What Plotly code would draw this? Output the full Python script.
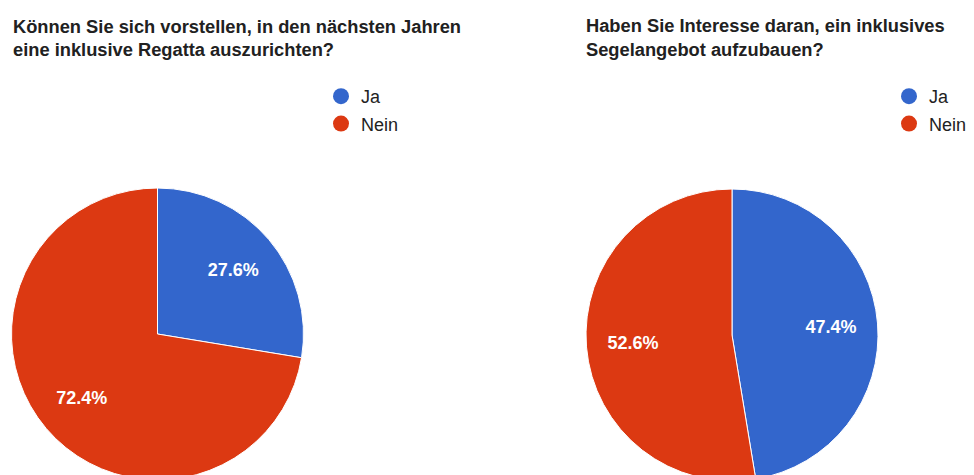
import plotly.graph_objects as go

labels = ["Ja", "Nein"]
colors = ["#3366cc", "#dc3912"]

regatta_title = ["Können Sie sich vorstellen, in den nächsten Jahren",
                 "eine inklusive Regatta auszurichten?"]
regatta_values = [27.6, 72.4]

segel_title = ["Haben Sie Interesse daran, ein inklusives",
               "Segelangebot aufzubauen?"]
segel_values = [47.4, 52.6]

W, H = 990, 475
OFF = 8  # page body margin, positions below are in screen pixels
FONT = "Arial, Liberation Sans, sans-serif"


def px(x):
    return (x - OFF) / W


def py(y):
    return 1 - (y - OFF) / H


def pies(values, cx, cy, r):
    dom = dict(x=[px(cx - r), px(cx + r)], y=[py(cy + r), py(cy - r)])
    base = go.Pie(
        labels=labels, values=values, sort=False, direction="clockwise",
        marker=dict(colors=colors, line=dict(color="white", width=1)),
        textinfo="none", showlegend=False, hoverinfo="label+percent",
        domain=dom,
    )
    # transparent ring only used to put the percent labels further out
    ring = go.Pie(
        labels=labels, values=values, sort=False, direction="clockwise",
        hole=0.36, marker=dict(colors=["rgba(0,0,0,0)"] * 2, line=dict(width=0)),
        textinfo="percent", texttemplate="<b>%{percent:.1%}</b>",
        textposition="inside", insidetextorientation="horizontal",
        textfont=dict(color="white", size=18, family=FONT),
        showlegend=False, hoverinfo="skip", domain=dom,
    )
    return [base, ring]


fig = go.Figure()
fig.add_traces(pies(regatta_values, 157.5, 334, 146))
fig.add_traces(pies(segel_values, 732, 335, 146))

# circle legend entries
for leg in ["legend", "legend2"]:
    for lab, col in zip(labels, colors):
        fig.add_trace(go.Scatter(
            x=[None], y=[None], mode="markers", name=lab,
            marker=dict(color=col, size=16, symbol="circle"),
            legend=leg, legendgroup=leg + lab,
        ))

legend_style = dict(
    font=dict(family=FONT, size=18, color="#222222"),
    bgcolor="rgba(0,0,0,0)", yanchor="top", xanchor="left",
    tracegroupgap=1, itemwidth=30, itemclick=False, itemdoubleclick=False,
)

annotations = []
for lines, x in [(regatta_title, 12), (segel_title, 585)]:
    for i, line in enumerate(lines):
        annotations.append(dict(
            text="<b>" + line + "</b>", x=px(x - 1), y=py(13.5 + 23.5 * i),
            xref="paper", yref="paper", xanchor="left", yanchor="top",
            showarrow=False, font=dict(family=FONT, size=18.3, color="#212121"),
        ))

fig.update_layout(
    width=W, height=H,
    margin=dict(l=0, r=0, t=0, b=0),
    paper_bgcolor="white", plot_bgcolor="white",
    xaxis=dict(visible=False), yaxis=dict(visible=False),
    legend=dict(x=px(321), y=py(78), **legend_style),
    legend2=dict(x=px(889), y=py(78), **legend_style),
    annotations=annotations,
)

fig.write_html("out.html")
